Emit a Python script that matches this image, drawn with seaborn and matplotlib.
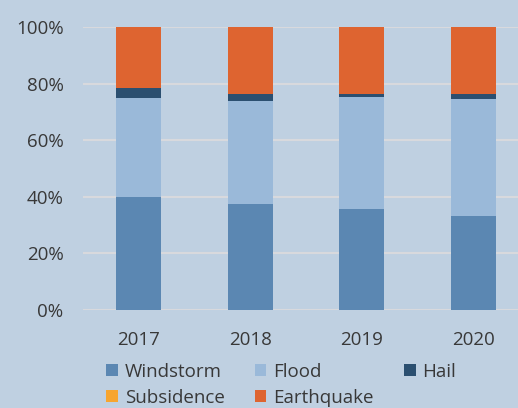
import numpy as np
import pandas as pd
import matplotlib.pyplot as plt
import seaborn as sns
from matplotlib.patches import Patch

# Share of losses by peril (%)
years = ['2017', '2018', '2019', '2020']
windstorm = [39.8, 37.5, 35.7, 33.2]
flood = [35.2, 36.4, 39.7, 41.4]
hail = [3.3, 2.4, 1.0, 1.8]
subsidence = [0.1, 0.1, 0.1, 0.1]
earthquake = [21.6, 23.6, 23.5, 23.5]

perils = ['Windstorm', 'Flood', 'Hail', 'Subsidence', 'Earthquake']
colors = ['#5b87b2', '#9ab9d9', '#2b4f70', '#f7a52f', '#de6430']

df = pd.DataFrame({'Year': years, 'Windstorm': windstorm, 'Flood': flood,
                   'Hail': hail, 'Subsidence': subsidence,
                   'Earthquake': earthquake})
vals = df[perils].to_numpy()
cum = np.cumsum(vals, axis=1) / vals.sum(axis=1, keepdims=True)

bg = '#bfd0e1'
txt = '#383838'
fs = 13.5

sns.set_theme(style='white')
plt.rcParams['font.family'] = ['Open Sans', 'DejaVu Sans']

fig = plt.figure(figsize=(5.18, 4.08), dpi=100, facecolor=bg)
ax = fig.add_axes([83 / 518, 98 / 408, 446 / 518, 283 / 408])
ax.set_facecolor(bg)

# draw cumulative layers from top to bottom so each overlays the previous
for i in range(len(perils) - 1, -1, -1):
    sns.barplot(x=df['Year'], y=cum[:, i], color=colors[i], width=0.4,
                saturation=1, linewidth=0, ax=ax, zorder=3)

ax.set_xlim(-0.5, 3.5)
ax.set_ylim(0, 1)
ax.set_yticks(np.arange(0, 1.01, 0.2))
ax.set_yticklabels([f'{int(v * 100)}%' for v in np.arange(0, 1.01, 0.2)])
ax.grid(axis='y', color='#d8d9dd', linewidth=1.5, zorder=0)
ax.set_axisbelow(True)
for s in ax.spines.values():
    s.set_visible(False)
ax.tick_params(axis='both', length=0, labelsize=fs, labelcolor=txt)
ax.tick_params(axis='y', pad=14)
ax.tick_params(axis='x', pad=15)
ax.set_xlabel('')
ax.set_ylabel('')

# legend laid out row-wise: W F H / S E
order = [0, 3, 1, 4, 2]
handles = [Patch(facecolor=colors[i], edgecolor='none') for i in order]
labels = [perils[i] for i in order]
fig.legend(handles, labels, ncol=3, loc='upper left',
           bbox_to_anchor=(106 / 518, 45 / 408), frameon=False,
           fontsize=fs, labelcolor=txt, handlelength=0.62, handleheight=0.62,
           handletextpad=0.38, columnspacing=1.6, labelspacing=0.42,
           borderpad=0, borderaxespad=0)

fig.savefig('out.png', dpi=100, facecolor=bg)
